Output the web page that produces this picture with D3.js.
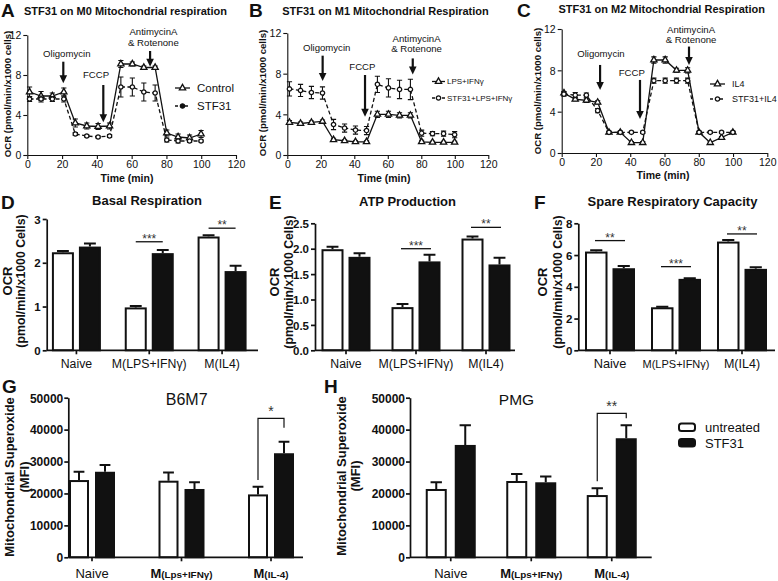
<!DOCTYPE html>
<html><head><meta charset="utf-8">
<script src="https://cdn.jsdelivr.net/npm/d3@7"></script>
<style>body{margin:0;background:#fff}svg{display:block;font-family:"Liberation Sans",Arial,sans-serif}</style>
</head><body><svg id="c" width="778" height="581"></svg>
<script>
// ---------------- DATA ----------------
const times = [1.3,7.9,14.4,21.0,27.6,34.2,40.7,47.3,53.8,60.4,67.0,73.5,80.2,86.7,93.3,99.9];
const timeTicks = [0,20,40,60,80,100,120];
const ocrTicks = [0,4,8,12];

const m0Control    = [6.3,5.9,5.9,6.3,3.2,2.9,2.85,2.9,9.1,9.1,8.75,8.75,2.2,1.8,1.7,2.1];
const m0ControlErr = [0.5,0.45,0.3,0.4,0.4,0.3,0.3,0.3,0.35,0.2,0.15,0.15,0.3,0.3,0.3,0.35];
const m0STF31      = [5.6,5.6,5.6,5.6,2.1,1.9,1.8,1.9,6.8,6.8,6.3,6.2,1.5,1.4,1.4,1.4];
const m0STF31Err   = [0.25,0.3,0.25,0.3,0.15,0.1,0.1,0.15,1.0,0.9,0.9,0.8,0.2,0.2,0.15,0.1];

const m1LPS        = [3.2,3.1,3.2,3.3,1.5,1.4,1.3,1.3,4.0,4.0,3.9,3.9,1.3,1.25,1.25,1.25];
const m1LPSErr     = [0.2,0.15,0.15,0.15,0.15,0.1,0.1,0.1,0.3,0.3,0.25,0.25,0.15,0.1,0.1,0.1];
const m1STF31      = [6.5,6.35,6.15,6.1,3.0,2.65,2.45,2.4,6.95,6.6,6.45,6.45,2.15,2.1,2.1,2.0];
const m1STF31Err   = [0.7,0.6,0.6,0.6,0.5,0.4,0.4,0.4,0.8,0.9,0.9,1.0,0.3,0.2,0.25,0.3];

const m2IL4        = [5.8,5.2,5.1,4.9,2.0,2.0,1.0,1.0,9.0,9.0,8.0,8.0,2.0,1.0,1.5,2.0];
const m2IL4Err     = [0.15,0.15,0.2,0.15,0.1,0.1,0.1,0.1,0.3,0.3,0.2,0.25,0.1,0.1,0.1,0.1];
const m2STF31      = [5.7,5.6,5.6,4.1,2.0,2.0,2.0,2.0,7.0,7.0,7.0,7.0,2.0,2.0,2.0,2.0];
const m2STF31Err   = [0.2,0.25,0.2,0.2,0.1,0.1,0.1,0.1,0.25,0.25,0.25,0.25,0.1,0.1,0.1,0.1];

// injection annotations: text position (time, values) and arrow (time, top value, tip value)
const m0Inject = [
  {label:["Oligomycin"], tx:22.7, tv:[9.83], at:20.7, a1:9.33, a2:7.17},
  {label:["FCCP"], tx:39.5, tv:[7.73], at:43.7, a1:7.0, a2:3.27},
  {label:["AntimycinA","& Rotenone"], tx:72.5, tv:[12.0,10.93], at:70.6, a1:10.4, a2:8.83}
];
const m1Inject = [
  {label:["Oligomycin"], tx:23.5, tv:[10.2], at:21.1, a1:9.77, a2:7.28},
  {label:["FCCP"], tx:44.8, tv:[8.36], at:46.4, a1:7.87, a2:3.77},
  {label:["AntimycinA","& Rotenone"], tx:77.2, tv:[11.08,10.1], at:74.9, a1:9.5, a2:7.93}
];
const m2Inject = [
  {label:["Oligomycin"], tx:22.9, tv:[9.32], at:22.4, a1:8.52, a2:6.1},
  {label:["FCCP"], tx:40.9, tv:[7.45], at:45.7, a1:7.07, a2:3.29},
  {label:["AntimycinA","& Rotenone"], tx:75.5, tv:[11.58,10.62], at:74.3, a1:10.3, a2:8.52}
];

const ocrGroups = ["Naive","M(LPS+IFNγ)","M(IL4)"];
const soxGroups = ["Naive","M(Lps+IFNγ)","M(IL-4)"];
const treatments = ["untreated","STF31"];

const basalUntreated = [2.24,0.98,2.60];  const basalUntreatedErr = [0.03,0.03,0.03];
const basalSTF31     = [2.37,2.22,1.81];  const basalSTF31Err     = [0.07,0.07,0.12];
const basalSig = [{g:1,v:2.48,label:"***"},{g:2,v:2.79,label:"**"}];

const atpUntreated = [1.99,0.85,2.20];    const atpUntreatedErr = [0.05,0.06,0.04];
const atpSTF31     = [1.84,1.75,1.69];    const atpSTF31Err     = [0.07,0.13,0.13];
const atpSig = [{g:1,v:2.0,label:"***"},{g:2,v:2.42,label:"**"}];

const spareUntreated = [6.22,2.71,6.85];  const spareUntreatedErr = [0.08,0.04,0.10];
const spareSTF31     = [5.17,4.50,5.13];  const spareSTF31Err     = [0.14,0.04,0.10];
const spareSig = [{g:0,v:6.91,label:"**"},{g:1,v:5.27,label:"***"},{g:2,v:7.33,label:"**"}];

const b6m7Untreated = [24200,24000,19700]; const b6m7UntreatedErr = [2600,2600,2400];
const b6m7STF31     = [26800,21400,32600]; const b6m7STF31Err     = [2100,2100,3600];
const b6m7Sig = {g:2, top:43500, left:24200, right:40600, label:"*"};

const pmgUntreated = [21400,23900,19500];  const pmgUntreatedErr = [2100,2200,2100];
const pmgSTF31     = [35200,23500,37300];  const pmgSTF31Err     = [6200,1800,4100];
const pmgSig = {g:2, top:45100, left:23800, right:43600, label:"**"};

const soxTicks = [0,10000,20000,30000,40000,50000];

// ---------------- DRAWING ----------------
const svg = d3.select("#c");
svg.append("rect").attr("width",778).attr("height",581).attr("fill","#fff");
const INK = "#111";

function txt(g, x, y, s, o={}) {
  return g.append("text").attr("x",x).attr("y",y).text(s)
    .attr("font-size",o.size||11).attr("font-weight",o.bold?"bold":"normal")
    .attr("text-anchor",o.anchor||"start").attr("fill",INK);
}
function vtxt(g, x, y, s, o={}) {
  return g.append("text").attr("transform",`translate(${x},${y}) rotate(-90)`).text(s)
    .attr("font-size",o.size||11).attr("font-weight",o.bold?"bold":"normal")
    .attr("text-anchor","middle").attr("fill",INK);
}
function styleAxis(a, sw, fs, bold) {
  a.selectAll("path,line").attr("stroke",INK).attr("stroke-width",sw);
  a.selectAll("text").attr("font-size",fs).attr("font-weight",bold?"bold":"normal")
    .attr("fill",INK).attr("font-family",'"Liberation Sans", Arial, sans-serif');
}

function linePanel(p) {
  const g = svg.append("g");
  const x = d3.scaleLinear().domain([0,120]).range(p.xr);
  const y = d3.scaleLinear().domain([0,12]).range(p.yr);
  const ax = g.append("g").attr("transform",`translate(0,${p.yr[0]})`)
    .call(d3.axisBottom(x).tickValues(timeTicks).tickSize(4).tickSizeOuter(0).tickPadding(2));
  styleAxis(ax,1.1,10.5,false);
  const ay = g.append("g").attr("transform",`translate(${p.xr[0]},0)`)
    .call(d3.axisLeft(y).tickValues(ocrTicks).tickSize(4).tickSizeOuter(0).tickPadding(2));
  styleAxis(ay,1.1,10.5,false);
  ay.selectAll("text").attr("dy","0.36em");

  txt(g, p.title[0], p.title[1], p.title[2], {size:11, bold:true, anchor:"middle"});
  txt(g, p.letter[0], p.letter[1], p.letter[2], {size:19, bold:true});
  txt(g, p.timeLab[0], p.timeLab[1], "Time (min)", {size:10.5, bold:true, anchor:"middle"});
  vtxt(g, p.yLab[0], p.yLab[1], "OCR (pmol/min/x1000 cells)", {size:9.6, bold:true});

  const sym = (m) => d3.symbol().type(m==="tri"?d3.symbolTriangle:d3.symbolCircle).size(m==="tri"?17:15)();
  p.series.forEach(s => {
    const pts = times.map((t,i)=>({t, v:s.values[i], e:s.errors[i]}));
    g.append("path").datum(pts).attr("d", d3.line().x(d=>x(d.t)).y(d=>y(d.v)))
      .attr("fill","none").attr("stroke",INK).attr("stroke-width",1.3)
      .attr("stroke-dasharray", s.dash ? "4,2.5" : null);
    g.selectAll(null).data(pts).join("path")
      .attr("d", d => { const X=x(d.t), lo=y(d.v-d.e), hi=y(d.v+d.e);
        return `M${X},${lo}V${hi}M${X-2.6},${hi}h5.2M${X-2.6},${lo}h5.2`; })
      .attr("stroke",INK).attr("stroke-width",1.1).attr("fill","none");
    g.selectAll(null).data(pts).join("path")
      .attr("transform", d=>`translate(${x(d.t)},${y(d.v)})`).attr("d", sym(s.marker))
      .attr("fill","#fff").attr("stroke",INK).attr("stroke-width",1.3);
  });

  p.inject.forEach(a => {
    a.label.forEach((l,i) => txt(g, x(a.tx), y(a.tv[i]), l, {size:9.6, anchor:"middle"}));
    const X = x(a.at), Y1 = y(a.a1), Y2 = y(a.a2);
    g.append("line").attr("x1",X).attr("x2",X).attr("y1",Y1).attr("y2",Y2-6)
      .attr("stroke",INK).attr("stroke-width",2.2);
    g.append("path").attr("d",`M${X-3.8},${Y2-8}L${X+3.8},${Y2-8}L${X},${Y2}Z`).attr("fill",INK);
  });

  p.series.forEach((s,i) => {
    const [lx, ly] = p.legend[i];
    g.append("line").attr("x1",lx).attr("x2",lx+p.legW).attr("y1",ly).attr("y2",ly)
      .attr("stroke",INK).attr("stroke-width",1.3).attr("stroke-dasharray", s.dash ? "3,2" : null);
    g.append("path").attr("transform",`translate(${lx+p.legW/2},${ly})`).attr("d",sym(s.marker))
      .attr("fill", (s.marker!=="tri" && p.legFilled) ? INK : "#fff").attr("stroke",INK).attr("stroke-width",1.3);
    txt(g, lx+p.legW+p.legGap, ly + p.legSize*0.36, s.name, {size:p.legSize});
  });
}

linePanel({
  xr:[27.3,236], yr:[155,35],
  title:[125.5,15,"STF31 on M0 Mitochondrial respiration"], letter:[1,17,"A"],
  timeLab:[127,182], yLab:[11,94],
  series:[{name:"Control",values:m0Control,errors:m0ControlErr,marker:"tri",dash:false},
          {name:"STF31",values:m0STF31,errors:m0STF31Err,marker:"circ",dash:true}],
  inject:m0Inject, legend:[[175,88],[175,106]], legW:15, legGap:7, legSize:11.5, legFilled:true
});
linePanel({
  xr:[287.3,488.3], yr:[155,33],
  title:[385.5,15,"STF31 on M1 Mitochondrial Respiration"], letter:[249,17,"B"],
  timeLab:[384,181.5], yLab:[266,93],
  series:[{name:"LPS+IFNγ",values:m1LPS,errors:m1LPSErr,marker:"tri",dash:false},
          {name:"STF31+LPS+IFNγ",values:m1STF31,errors:m1STF31Err,marker:"circ",dash:true}],
  inject:m1Inject, legend:[[432,81.5],[432,98]], legW:13, legGap:2, legSize:8, legFilled:false
});
linePanel({
  xr:[561.7,767.3], yr:[153,29],
  title:[661.7,12.5,"STF31 on M2 Mitochondrial Respiration"], letter:[517,17,"C"],
  timeLab:[663,178.5], yLab:[541,91],
  series:[{name:"IL4",values:m2IL4,errors:m2IL4Err,marker:"tri",dash:false},
          {name:"STF31+IL4",values:m2STF31,errors:m2STF31Err,marker:"circ",dash:true}],
  inject:m2Inject, legend:[[710,84],[710,99]], legW:15, legGap:7, legSize:9, legFilled:false
});

function barPanel(p) {
  const g = svg.append("g");
  const x = d3.scaleBand().domain(p.groups).range(p.band).paddingInner(0).paddingOuter(0);
  const xs = d3.scaleBand().domain(treatments).range([-p.half,p.half])
    .paddingInner(p.gap/((2*p.half - p.gap)/2 + p.gap)).paddingOuter(0);
  const y = d3.scaleLinear().domain([0,p.ymax]).range([p.y0,p.ytop]);
  const cx = gname => x(gname) + x.bandwidth()/2;

  const data = [];
  p.groups.forEach((gn,i) => {
    data.push({g:gn, t:"untreated", v:p.u[i], e:p.ue[i]});
    data.push({g:gn, t:"STF31", v:p.s[i], e:p.se[i]});
  });
  const bw = xs.bandwidth();
  g.selectAll(null).data(data).join("path")
    .attr("d", d => { const X = cx(d.g)+xs(d.t)+bw/2, top=y(d.v), hi=y(d.v+d.e);
      return `M${X},${top}V${hi}M${X-bw*0.27},${hi}h${bw*0.54}`; })
    .attr("stroke",INK).attr("stroke-width",p.sw).attr("fill","none");
  g.selectAll(null).data(data).join("rect")
    .attr("x", d => cx(d.g)+xs(d.t)+p.sw/2).attr("width", bw-p.sw)
    .attr("y", d => y(d.v)+p.sw/2).attr("height", d => y(0)-y(d.v)-p.sw/2)
    .attr("fill", d => d.t==="STF31" ? INK : "#fff").attr("stroke",INK).attr("stroke-width",p.sw);

  const ay = g.append("g").attr("transform",`translate(${p.axisX[0]},0)`)
    .call(d3.axisLeft(y).tickValues(p.ticks).tickFormat(p.fmt).tickSize(p.tick).tickSizeOuter(0).tickPadding(p.tickPad||2));
  styleAxis(ay,p.sw*0.85,p.tickFs,true);
  ay.selectAll("text").attr("dy","0.36em");
  const ax = g.append("g").attr("transform",`translate(0,${p.y0})`)
    .call(d3.axisBottom(x).tickSize(p.tick).tickFormat(""));
  ax.select(".domain").remove();
  styleAxis(ax,p.sw*0.85,10,false);
  g.append("line").attr("x1",p.axisX[0]).attr("x2",p.axisX[1]).attr("y1",p.y0).attr("y2",p.y0)
    .attr("stroke",INK).attr("stroke-width",p.sw*0.85);

  p.groups.forEach((gn,i) => {
    const t = g.append("text").attr("x",cx(gn)).attr("y",p.labY).attr("text-anchor","middle").attr("fill",INK);
    if (p.mixed && gn.startsWith("M(")) {
      t.append("tspan").text("M").attr("font-size",p.labFs).attr("font-weight","bold");
      t.append("tspan").text(gn.slice(1)).attr("font-size",p.labFs*0.76).attr("font-weight","bold");
    } else {
      t.text(gn).attr("font-size", (p.labFsList ? p.labFsList[i] : p.labFs));
    }
  });

  txt(g, p.title[0], p.title[1], p.title[2], {size:p.titleFs, bold:p.titleBold, anchor:"middle"});
  txt(g, p.letter[0], p.letter[1], p.letter[2], {size:19, bold:true});
  p.yLab.forEach(l => vtxt(g, l[0], p.yLabC, l[1], {size:l[2], bold:true}));

  if (p.sigLines) p.sigLines.forEach(sg => {
    const c = cx(p.groups[sg.g]), Y = y(sg.v);
    g.append("line").attr("x1",c-p.sigHalf).attr("x2",c+p.sigHalf).attr("y1",Y).attr("y2",Y)
      .attr("stroke",INK).attr("stroke-width",1.3);
    txt(g, c, Y+1, sg.label, {size:12, anchor:"middle"}).attr("fill","#333");
  });
  if (p.bracket) {
    const b = p.bracket, c = cx(p.groups[b.g]);
    const xl = c + xs("untreated") + bw/2, xr = c + xs("STF31") + bw/2;
    g.append("path").attr("d",`M${xl},${y(b.left)}V${y(b.top)}H${xr}V${y(b.right)}`)
      .attr("fill","none").attr("stroke",INK).attr("stroke-width",1.2);
    txt(g, (xl+xr)/2, y(b.top)-2, b.label, {size:14, anchor:"middle"}).attr("fill","#333");
  }
}

barPanel({
  groups:ocrGroups, band:[40,258.5], axisX:[46.7,258], y0:350.3, ytop:219, ymax:3,
  ticks:[0,1,2,3], fmt:d3.format("d"), tick:4, tickFs:11.5, sw:2,
  half:24.5, gap:5, u:basalUntreated, ue:basalUntreatedErr, s:basalSTF31, se:basalSTF31Err,
  labY:368, labFs:12.3, mixed:false,
  title:[147,204.5,"Basal Respiration"], titleFs:13, titleBold:true, letter:[1,209,"D"],
  yLab:[[12,"OCR",13],[24.5,"(pmol/min/x1000 Cells)",12.3]], yLabC:281,
  sigLines:basalSig, sigHalf:13.5
});
barPanel({
  groups:ocrGroups, band:[311,521], axisX:[315,515], y0:350.3, ytop:223.3, ymax:2.5,
  ticks:[0,0.5,1,1.5,2,2.5], fmt:d3.format(".1f"), tick:4, tickFs:11.5, sw:2,
  half:24.5, gap:5, u:atpUntreated, ue:atpUntreatedErr, s:atpSTF31, se:atpSTF31Err,
  labY:368, labFs:12.3, mixed:false,
  title:[407.5,206,"ATP Production"], titleFs:13, titleBold:true, letter:[269,209,"E"],
  yLab:[[279,"OCR",13],[293,"(pmol/min/x1000 Cells)",12.3]], yLabC:282,
  sigLines:atpSig, sigHalf:15
});
barPanel({
  groups:ocrGroups, band:[577,775], axisX:[578.3,775], y0:350.3, ytop:223.3, ymax:8,
  ticks:[0,2,4,6,8], fmt:d3.format("d"), tick:4, tickFs:11.5, sw:2,
  half:25, gap:5, u:spareUntreated, ue:spareUntreatedErr, s:spareSTF31, se:spareSTF31Err,
  labY:368, labFs:12.5, labFsList:[12.8,11,12.5], mixed:false,
  title:[672.5,206,"Spare Respiratory Capacity"], titleFs:13, titleBold:true, letter:[534,209,"F"],
  yLab:[[547,"OCR",13],[562,"(pmol/min/x1000 Cells)",12.3]], yLabC:282,
  sigLines:spareSig, sigHalf:15
});
barPanel({
  groups:soxGroups, band:[47.25,315.75], axisX:[68.3,303], y0:557.3, ytop:397.7, ymax:50000,
  ticks:soxTicks, fmt:d3.format("d"), tick:4, tickPad:1, tickFs:12, sw:2,
  half:23, gap:6, u:b6m7Untreated, ue:b6m7UntreatedErr, s:b6m7STF31, se:b6m7STF31Err,
  labY:578, labFs:13, mixed:true,
  title:[186.7,405,"B6M7"], titleFs:16, titleBold:false, letter:[2,393,"G"],
  yLab:[[13.5,"Mitochondrial Superoxide",13],[28.5,"(MFI)",13]], yLabC:477,
  bracket:b6m7Sig
});
barPanel({
  groups:soxGroups, band:[410.5,652], axisX:[410,651.7], y0:557.3, ytop:397.7, ymax:50000,
  ticks:soxTicks, fmt:d3.format("d"), tick:4, tickPad:1, tickFs:12, sw:2,
  half:25, gap:8, u:pmgUntreated, ue:pmgUntreatedErr, s:pmgSTF31, se:pmgSTF31Err,
  labY:578, labFs:13, mixed:true,
  title:[516.5,405,"PMG"], titleFs:15.5, titleBold:false, letter:[324,393,"H"],
  yLab:[[346,"Mitochondrial Superoxide",13],[360,"(MFI)",13]], yLabC:476,
  bracket:pmgSig
});

const leg = svg.append("g");
treatments.forEach((t,i) => {
  const yy = 423.5 + i*15.5;
  leg.append("rect").attr("x",679).attr("y",yy).attr("width",16).attr("height",7.5).attr("rx",2.5)
    .attr("fill", t==="STF31" ? INK : "#fff").attr("stroke",INK).attr("stroke-width",2);
  txt(leg, 705, yy+8.5, t, {size:13});
});
</script></body></html>
